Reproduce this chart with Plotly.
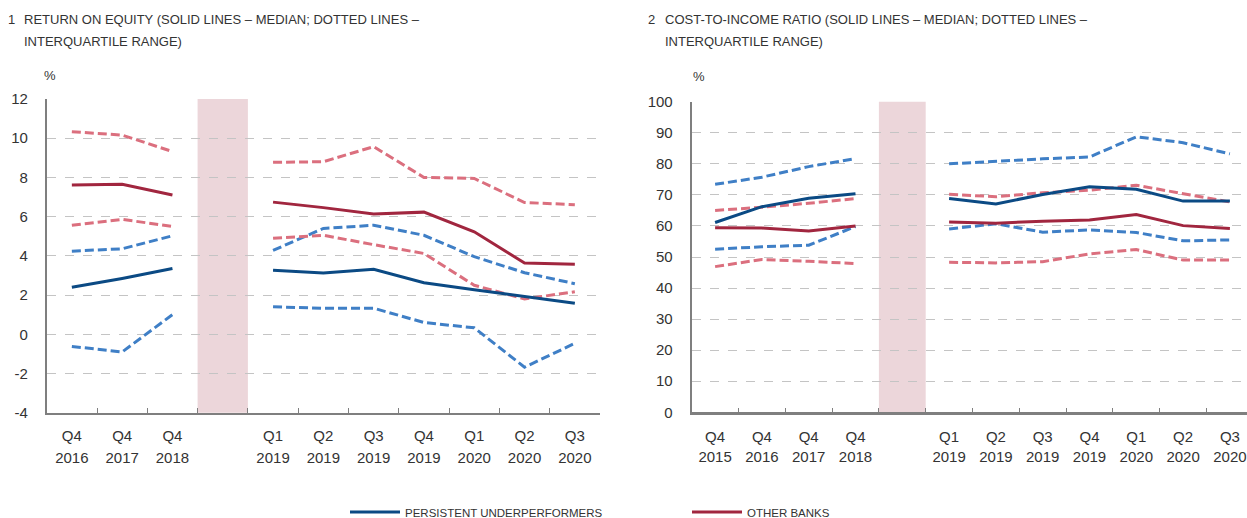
import plotly.graph_objects as go

# ---------------- data ----------------
roe_quarters = ["Q4", "Q4", "Q4", "", "Q1", "Q2", "Q3", "Q4", "Q1", "Q2", "Q3"]
roe_years = ["2016", "2017", "2018", "", "2019", "2019", "2019", "2019", "2020", "2020", "2020"]
cir_quarters = ["Q4", "Q4", "Q4", "Q4", "", "Q1", "Q2", "Q3", "Q4", "Q1", "Q2", "Q3"]
cir_years = ["2015", "2016", "2017", "2018", "", "2019", "2019", "2019", "2019", "2020", "2020", "2020"]

# Return on equity (%) - annual points, then quarterly points
roe_pu_median_annual = [2.40, 2.85, 3.35]
roe_pu_median_qtr = [3.27, 3.13, 3.32, 2.63, 2.27, 1.92, 1.58]
roe_pu_q1_annual = [-0.62, -0.90, 1.00]
roe_pu_q1_qtr = [1.40, 1.33, 1.33, 0.60, 0.33, -1.68, -0.46]
roe_pu_q3_annual = [4.24, 4.36, 5.02]
roe_pu_q3_qtr = [4.28, 5.40, 5.56, 5.05, 3.96, 3.14, 2.58]
roe_ob_median_annual = [7.62, 7.65, 7.10]
roe_ob_median_qtr = [6.74, 6.46, 6.13, 6.23, 5.23, 3.63, 3.57]
roe_ob_q1_annual = [5.56, 5.86, 5.50]
roe_ob_q1_qtr = [4.90, 5.05, 4.57, 4.12, 2.50, 1.80, 2.17]
roe_ob_q3_annual = [10.33, 10.16, 9.32]
roe_ob_q3_qtr = [8.77, 8.80, 9.57, 8.00, 7.95, 6.72, 6.61]

# Cost-to-income ratio (%)
cir_pu_median_annual = [61.1, 66.2, 68.9, 70.4]
cir_pu_median_qtr = [68.8, 67.1, 70.1, 72.6, 71.8, 68.0, 68.0]
cir_pu_q1_annual = [52.5, 53.3, 53.8, 59.8]
cir_pu_q1_qtr = [59.0, 60.7, 58.0, 58.7, 57.9, 55.2, 55.5]
cir_pu_q3_annual = [73.4, 75.7, 79.1, 81.7]
cir_pu_q3_qtr = [80.0, 80.9, 81.6, 82.2, 88.7, 86.8, 83.2]
cir_ob_median_annual = [59.4, 59.3, 58.4, 60.0]
cir_ob_median_qtr = [61.3, 60.9, 61.5, 61.9, 63.7, 60.1, 59.2]
cir_ob_q1_annual = [46.9, 49.2, 48.6, 47.9]
cir_ob_q1_qtr = [48.3, 48.1, 48.5, 51.0, 52.4, 49.0, 49.0]
cir_ob_q3_annual = [65.0, 66.0, 67.3, 68.8]
cir_ob_q3_qtr = [70.2, 69.4, 70.7, 71.5, 73.1, 70.5, 67.7]

roe_yticks = [-4, -2, 0, 2, 4, 6, 8, 10, 12]
cir_yticks = [0, 10, 20, 30, 40, 50, 60, 70, 80, 90, 100]

# ---------------- styling ----------------
DARK_BLUE = "#0b4a84"
DARK_RED = "#a1263f"
LIGHT_BLUE = "#3f7fc6"
LIGHT_RED = "#db6f7e"
SHADE = "#ecd6da"
TEXT = "#333333"
AXIS = "#7f7f7f"
FONT = "Liberation Sans, Arial, sans-serif"
W, H = 1247, 518

roe_cats = [f"{q} {y}" if q else " " for q, y in zip(roe_quarters, roe_years)]
cir_cats = [f"{q} {y}" if q else " " for q, y in zip(cir_quarters, cir_years)]


def joined(a, b):
    return list(a) + [None] + list(b)


fig = go.Figure()

series_sets = [
    ("x", "y", roe_cats, [
        (roe_pu_q3_annual, roe_pu_q3_qtr, LIGHT_BLUE, "dash", None),
        (roe_pu_q1_annual, roe_pu_q1_qtr, LIGHT_BLUE, "dash", None),
        (roe_ob_q3_annual, roe_ob_q3_qtr, LIGHT_RED, "dash", None),
        (roe_ob_q1_annual, roe_ob_q1_qtr, LIGHT_RED, "dash", None),
        (roe_pu_median_annual, roe_pu_median_qtr, DARK_BLUE, "solid", "PERSISTENT UNDERPERFORMERS"),
        (roe_ob_median_annual, roe_ob_median_qtr, DARK_RED, "solid", "OTHER BANKS"),
    ]),
    ("x2", "y2", cir_cats, [
        (cir_pu_q3_annual, cir_pu_q3_qtr, LIGHT_BLUE, "dash", None),
        (cir_pu_q1_annual, cir_pu_q1_qtr, LIGHT_BLUE, "dash", None),
        (cir_ob_q3_annual, cir_ob_q3_qtr, LIGHT_RED, "dash", None),
        (cir_ob_q1_annual, cir_ob_q1_qtr, LIGHT_RED, "dash", None),
        (cir_pu_median_annual, cir_pu_median_qtr, DARK_BLUE, "solid", None),
        (cir_ob_median_annual, cir_ob_median_qtr, DARK_RED, "solid", None),
    ]),
]

for xa, ya, cats, series in series_sets:
    for ann, qtr, color, dash, name in series:
        fig.add_trace(go.Scatter(
            x=cats, y=joined(ann, qtr), xaxis=xa, yaxis=ya,
            mode="lines", connectgaps=False,
            line=dict(color=color, width=3, dash="9px,4px" if dash == "dash" else "solid"),
            name=name if name else "", showlegend=bool(name), hoverinfo="skip",
        ))

# geometry (pixels)
L_x0, L_x1, L_ytop, L_ybot = 46.7, 600.0, 99.0, 412.7
R_x0, R_x1, R_ytop, R_ybot = 691.7, 1247.0, 101.7, 412.3
slot_r = 46.8
r_range = [-0.5, (R_x1 - R_x0) / slot_r - 0.5]

tickfont = dict(family=FONT, size=15, color=TEXT)
xcommon = dict(showgrid=False, zeroline=False, automargin=False, tickfont=tickfont)
ycommon = dict(
    showgrid=True, gridcolor="#c4c4c4", gridwidth=1, griddash="dash",
    zeroline=False, showline=True, linecolor=AXIS,
    ticks="", tickfont=tickfont, automargin=False, ticklabelstandoff=14,
)

fig.update_layout(
    width=W, height=H, template="none",
    paper_bgcolor="white", plot_bgcolor="white",
    margin=dict(l=0, r=0, t=0, b=0, autoexpand=False),
    font=dict(family=FONT, color=TEXT),
    # primary x axes: quarter labels
    xaxis=dict(xcommon, domain=[L_x0 / W, L_x1 / W], anchor="y",
               type="category", range=[-0.5, len(roe_cats) - 0.5],
               showline=True, linecolor=AXIS, linewidth=1.5,
               ticks="inside", ticklen=5, tickcolor=AXIS, tickson="boundaries",
               tickvals=roe_cats, ticktext=roe_quarters, ticklabelstandoff=9),
    xaxis2=dict(xcommon, domain=[R_x0 / W, R_x1 / W], anchor="y2",
                type="category", range=r_range,
                showline=True, linecolor=AXIS, linewidth=2.5,
                ticks="inside", ticklen=5, tickcolor=AXIS, tickson="boundaries",
                tickvals=cir_cats, ticktext=cir_quarters, ticklabelstandoff=9),
    # overlay x axes: year labels (second row)
    xaxis3=dict(xcommon, overlaying="x", anchor="y", side="bottom", type="linear",
                range=[-0.5, len(roe_cats) - 0.5], showline=False, ticks="",
                tickvals=list(range(len(roe_years))), ticktext=roe_years,
                ticklabelstandoff=34),
    xaxis4=dict(xcommon, overlaying="x2", anchor="y2", side="bottom", type="linear",
                range=r_range, showline=False, ticks="",
                tickvals=list(range(len(cir_years))), ticktext=cir_years,
                ticklabelstandoff=34),
    yaxis=dict(ycommon, domain=[(H - L_ybot) / H, (H - L_ytop) / H], anchor="x",
               range=[-4, 12], tickvals=roe_yticks, ticktext=[str(v) for v in roe_yticks],
               linewidth=1.5),
    yaxis2=dict(ycommon, domain=[(H - R_ybot) / H, (H - R_ytop) / H], anchor="x2",
                range=[0, 100], tickvals=cir_yticks, ticktext=[str(v) for v in cir_yticks],
                linewidth=2),
    legend=dict(orientation="h", xref="paper", yref="paper",
                x=345 / W, y=6 / H, xanchor="left", yanchor="middle",
                entrywidthmode="pixels", entrywidth=277, itemwidth=50,
                font=dict(family=FONT, size=11.5, color=TEXT),
                bgcolor="rgba(0,0,0,0)"),
    shapes=[
        dict(type="rect", xref="x", yref="y domain", x0=2.5, x1=3.5, y0=0, y1=1,
             fillcolor=SHADE, line=dict(width=0), layer="below"),
        dict(type="rect", xref="x2", yref="y2 domain", x0=3.5, x1=4.5, y0=0, y1=1,
             fillcolor=SHADE, line=dict(width=0), layer="below"),
    ],
)

# invisible anchor traces so the overlay year axes are drawn
fig.add_trace(go.Scatter(x=[0], y=[None], xaxis="x3", yaxis="y", showlegend=False, hoverinfo="skip"))
fig.add_trace(go.Scatter(x=[0], y=[None], xaxis="x4", yaxis="y2", showlegend=False, hoverinfo="skip"))


def txt(x, y, s, size=13):
    fig.add_annotation(text=s, xref="paper", yref="paper", x=x / W, y=(H - y) / H,
                       xanchor="left", yanchor="middle", showarrow=False,
                       font=dict(family=FONT, size=size, color=TEXT))


txt(6, 19, "1")
txt(22, 19, "RETURN ON EQUITY (SOLID LINES – MEDIAN; DOTTED LINES –")
txt(22, 42, "INTERQUARTILE RANGE)")
txt(646, 19, "2")
txt(663, 19, "COST-TO-INCOME RATIO (SOLID LINES – MEDIAN; DOTTED LINES –")
txt(663, 42, "INTERQUARTILE RANGE)")
txt(42, 75, "%", 13)
txt(691, 76, "%", 13)

fig.write_html("out.html", config={"displayModeBar": False},
               post_script="document.body.style.margin='0';")
